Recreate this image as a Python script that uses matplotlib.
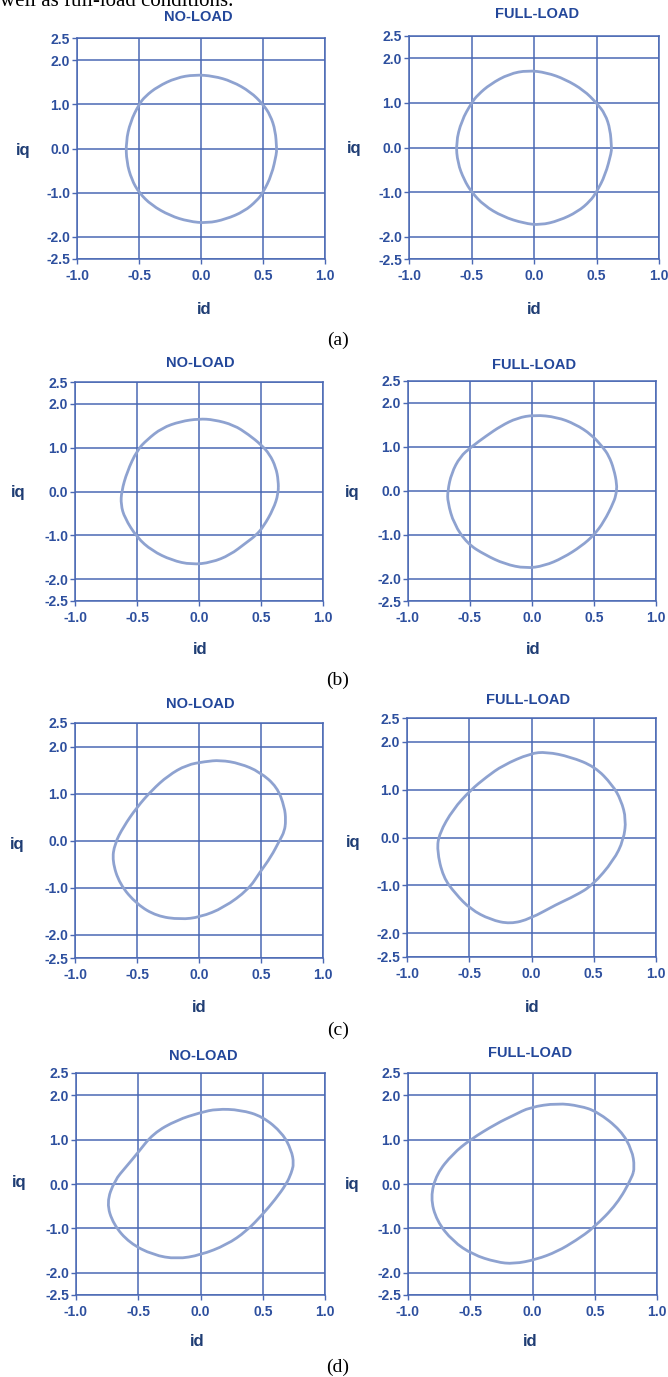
import matplotlib
matplotlib.use("Agg")
import matplotlib.pyplot as plt
from matplotlib.path import Path
from matplotlib.patches import PathPatch

W, H = 668, 1377

# ---- data (id, iq) ----
a_no_id = [0.61, 0.60, 0.56, 0.50, 0.40, 0.25, 0.10, -0.05, -0.20, -0.35, -0.45, -0.50, -0.57, -0.605, -0.60, -0.56, -0.50, -0.40, -0.25, -0.10, 0.05, 0.20, 0.35, 0.45, 0.50, 0.57, 0.61]
a_no_iq = [0.00, 0.40, 0.75, 1.00, 1.28, 1.52, 1.64, 1.67, 1.60, 1.40, 1.18, 1.00, 0.60, 0.15, -0.30, -0.70, -1.00, -1.28, -1.52, -1.65, -1.69, -1.60, -1.42, -1.18, -1.00, -0.60, -0.10]

a_full_id = [0.62, 0.61, 0.57, 0.50, 0.40, 0.25, 0.10, -0.05, -0.20, -0.35, -0.45, -0.50, -0.58, -0.625, -0.61, -0.56, -0.50, -0.40, -0.25, -0.08, 0.05, 0.20, 0.35, 0.45, 0.50, 0.57, 0.62]
a_full_iq = [0.00, 0.40, 0.75, 1.00, 1.28, 1.53, 1.68, 1.73, 1.65, 1.42, 1.18, 1.00, 0.60, 0.10, -0.35, -0.72, -1.00, -1.30, -1.55, -1.70, -1.74, -1.64, -1.44, -1.20, -1.00, -0.62, -0.10]

b_no_id = [0.64, 0.62, 0.57, 0.50, 0.40, 0.28, 0.12, 0.00, -0.15, -0.30, -0.42, -0.50, -0.58, -0.625, -0.63, -0.60, -0.50, -0.38, -0.22, -0.06, 0.10, 0.25, 0.38, 0.46, 0.52, 0.60, 0.64]
b_no_iq = [0.25, 0.55, 0.85, 1.07, 1.30, 1.52, 1.64, 1.66, 1.60, 1.45, 1.18, 0.94, 0.45, 0.00, -0.30, -0.60, -1.05, -1.35, -1.57, -1.67, -1.62, -1.45, -1.17, -1.00, -0.80, -0.40, -0.05]

b_full_id = [0.685, 0.66, 0.62, 0.57, 0.48, 0.35, 0.20, 0.02, -0.12, -0.25, -0.37, -0.49, -0.58, -0.65, -0.68, -0.68, -0.63, -0.52, -0.38, -0.22, -0.05, 0.10, 0.25, 0.40, 0.50, 0.58, 0.66, 0.68]
b_full_iq = [0.15, 0.50, 0.80, 1.00, 1.28, 1.52, 1.68, 1.73, 1.66, 1.48, 1.25, 1.00, 0.78, 0.40, 0.00, -0.25, -0.75, -1.20, -1.45, -1.66, -1.76, -1.70, -1.52, -1.25, -1.00, -0.70, -0.25, -0.05]

c_no_id = [0.70, 0.69, 0.63, 0.49, 0.33, 0.17, 0.05, -0.10, -0.25, -0.38, -0.50, -0.61, -0.68, -0.70, -0.64, -0.50, -0.34, -0.15, 0.01, 0.20, 0.40, 0.49, 0.58, 0.65, 0.69]
c_no_iq = [0.43, 0.71, 1.14, 1.46, 1.64, 1.71, 1.68, 1.61, 1.38, 1.07, 0.71, 0.29, -0.07, -0.43, -0.93, -1.36, -1.61, -1.68, -1.63, -1.43, -1.04, -0.68, -0.35, 0.00, 0.20]

c_full_id = [0.76, 0.72, 0.65, 0.51, 0.31, 0.12, -0.01, -0.23, -0.36, -0.49, -0.63, -0.74, -0.76, -0.71, -0.61, -0.49, -0.33, -0.17, -0.01, 0.20, 0.35, 0.49, 0.66, 0.74]
c_full_iq = [0.38, 0.78, 1.10, 1.48, 1.69, 1.79, 1.76, 1.51, 1.27, 0.99, 0.59, 0.09, -0.26, -0.83, -1.18, -1.50, -1.72, -1.81, -1.70, -1.40, -1.22, -1.00, -0.48, -0.05]

d_no_id = [0.75, 0.73, 0.66, 0.50, 0.32, 0.13, 0.00, -0.19, -0.38, -0.51, -0.60, -0.69, -0.755, -0.70, -0.57, -0.38, -0.19, 0.00, 0.21, 0.37, 0.50, 0.60, 0.69, 0.73]
d_no_iq = [0.46, 0.76, 1.14, 1.52, 1.67, 1.69, 1.61, 1.44, 1.14, 0.68, 0.38, 0.08, -0.42, -0.91, -1.33, -1.60, -1.69, -1.60, -1.37, -1.06, -0.68, -0.35, 0.00, 0.25]

d_full_id = [0.82, 0.80, 0.71, 0.52, 0.38, 0.20, -0.02, -0.15, -0.29, -0.50, -0.64, -0.77, -0.82, -0.77, -0.64, -0.48, -0.29, -0.15, 0.03, 0.20, 0.35, 0.49, 0.68, 0.80]
d_full_iq = [0.38, 0.76, 1.21, 1.63, 1.76, 1.82, 1.73, 1.55, 1.36, 1.00, 0.68, 0.23, -0.30, -0.83, -1.29, -1.59, -1.76, -1.80, -1.70, -1.52, -1.27, -0.99, -0.45, 0.15]

x_ticks = [-1.0, -0.5, 0.0, 0.5, 1.0]
y_ticks = [-2.5, -2.0, -1.0, 0.0, 1.0, 2.0, 2.5]
titles = ["NO-LOAD", "FULL-LOAD"]
captions = ["(a)", "(b)", "(c)", "(d)"]

curves = [
    [(a_no_id, a_no_iq), (a_full_id, a_full_iq)],
    [(b_no_id, b_no_iq), (b_full_id, b_full_iq)],
    [(c_no_id, c_no_iq), (c_full_id, c_full_iq)],
    [(d_no_id, d_no_iq), (d_full_id, d_full_iq)],
]

# ---- layout in pixels: (left, right, top, bottom) ----
boxes = [
    [(77, 325, 38, 259), (409, 659, 36, 259)],
    [(75, 323, 382, 601), (408, 656, 381, 601)],
    [(75, 323, 723, 958), (407, 656, 718, 957)],
    [(76, 325, 1073, 1295), (408, 657, 1073, 1295)],
]
title_pos = [[(198, 17), (537, 14)], [(200, 363), (534, 365)],
             [(200, 704), (528, 700)], [(203, 1056), (530, 1053)]]
iq_pos = [[(23, 150), (354, 148)], [(18, 493), (352, 493)],
          [(17, 845), (353, 843)], [(19, 1183), (352, 1185)]]
id_pos = [[(204, 310), (534, 310)], [(200, 650), (533, 650)],
          [(199, 1008), (532, 1008)], [(197, 1342), (530, 1342)]]
cap_pos = [(338, 340), (338, 680), (338, 1030), (338, 1367)]

LINE = "#4a68b4"
TICKC = "#2d4f9e"
TITLEC = "#23479a"
LABC = "#1f3d74"
CURVE = "#8ea2d0"

fig = plt.figure(figsize=(W / 100, H / 100), dpi=100)
fig.patch.set_facecolor("white")


def fx(px):
    return px / W


def fy(py):
    return 1 - py / H


def smooth_closed_path(xs, ys):
    # quadratic Bezier through midpoints, using the read points as control points
    n = len(xs)
    mids = [((xs[i] + xs[(i + 1) % n]) / 2, (ys[i] + ys[(i + 1) % n]) / 2)
            for i in range(n)]
    verts = [mids[-1]]
    codes = [Path.MOVETO]
    for i in range(n):
        verts += [(xs[i], ys[i]), mids[i]]
        codes += [Path.CURVE3, Path.CURVE3]
    return Path(verts, codes)


for r in range(4):
    for c in range(2):
        l, rgt, t, b = boxes[r][c]
        ax = fig.add_axes([fx(l), fy(b), (rgt - l) / W, (b - t) / H])
        ax.set_xlim(-1.0, 1.0)
        ax.set_ylim(-2.5, 2.5)
        ax.set_xticks(x_ticks)
        ax.set_yticks(y_ticks)
        ax.set_xticklabels([f"{v:.1f}" for v in x_ticks])
        ax.set_yticklabels([f"{v:.1f}" for v in y_ticks])
        ax.grid(True, color=LINE, linewidth=1.1)
        ax.set_axisbelow(True)
        for s in ax.spines.values():
            s.set_color(LINE)
            s.set_linewidth(1.1)
        ax.tick_params(axis="both", colors=LINE, length=3.5, width=1.0,
                       labelcolor=TICKC, labelsize=10, pad=1.5)
        for lab in ax.get_xticklabels() + ax.get_yticklabels():
            lab.set_fontweight("bold")
            lab.set_fontfamily("Liberation Sans")
        ax.tick_params(axis="x", pad=4)
        xs, ys = curves[r][c]
        patch = PathPatch(smooth_closed_path(xs, ys), facecolor="none",
                          edgecolor=CURVE, linewidth=2.0, zorder=3)
        ax.add_patch(patch)

        tx, ty = title_pos[r][c]
        fig.text(fx(tx), fy(ty), titles[c], ha="center", va="center",
                 color=TITLEC, fontsize=10.5, fontweight="bold",
                 family="Liberation Sans")
        qx, qy = iq_pos[r][c]
        fig.text(fx(qx), fy(qy), "iq", ha="center", va="center",
                 color=LABC, fontsize=12, fontweight="bold",
                 family="Liberation Sans")
        dx, dy = id_pos[r][c]
        fig.text(fx(dx), fy(dy), "id", ha="center", va="center",
                 color=LABC, fontsize=12, fontweight="bold",
                 family="Liberation Sans")

for cap, (cx, cy) in zip(captions, cap_pos):
    fig.text(fx(cx), fy(cy), cap, ha="center", va="center",
             color="black", fontsize=14, family="Liberation Serif")

fig.text(0, fy(6), "well as full-load conditions.", ha="left",
         va="baseline", color="black", fontsize=15, family="Liberation Serif")

fig.savefig("out.png", dpi=100)
